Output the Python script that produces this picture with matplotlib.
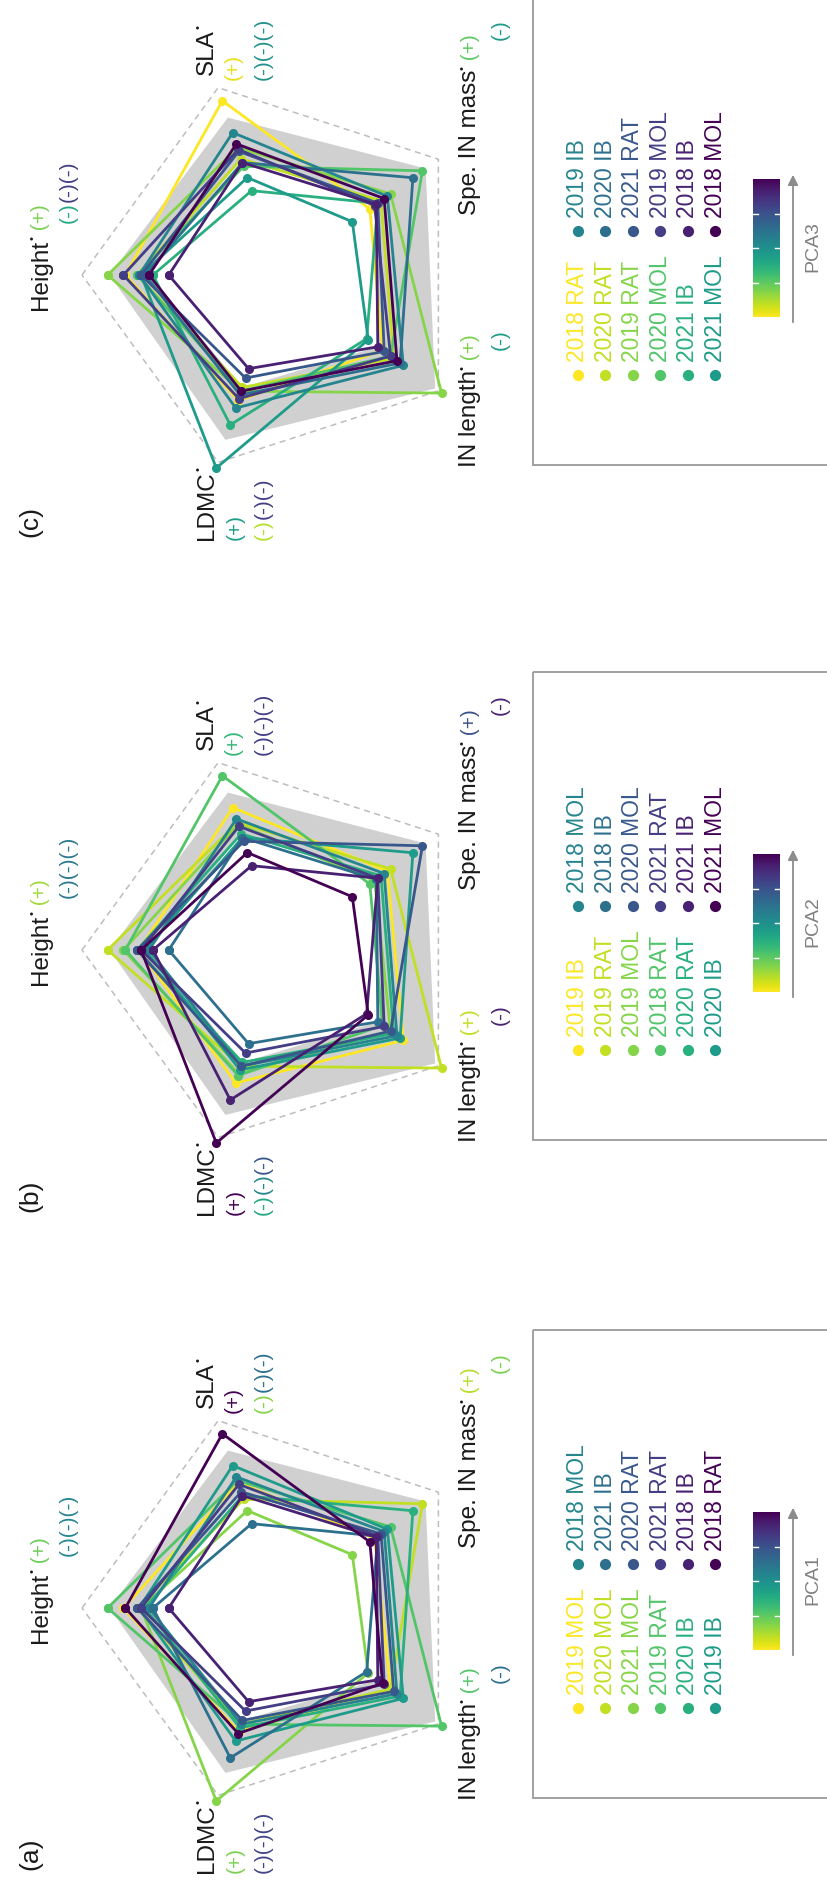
import numpy as np
import matplotlib.pyplot as plt
from matplotlib.patches import Rectangle

plt.rcParams['font.family'] = ['Liberation Sans', 'DejaVu Sans']

# ---- data -------------------------------------------------------------
traits = ["Height", "SLA", "Spe. IN mass", "IN length", "LDMC"]
site_years = ["2018 RAT", "2019 RAT", "2020 RAT", "2021 RAT",
              "2018 MOL", "2019 MOL", "2020 MOL", "2021 MOL",
              "2018 IB", "2019 IB", "2020 IB", "2021 IB"]

# scaled trait values (1 = outer dashed pentagon), same order as site_years
height = [0.78, 0.87, 0.72, 0.70, 0.66, 0.79, 0.72, 0.70, 0.56, 0.71, 0.68, 0.64]
sla = [0.93, 0.68, 0.62, 0.66, 0.70, 0.67, 0.58, 0.52, 0.60, 0.76, 0.60, 0.45]
spe_in_mass = [0.57, 0.70, 0.64, 0.62, 0.66, 0.60, 0.90, 0.46, 0.61, 0.68, 0.84, 0.62]
in_length = [0.65, 1.02, 0.72, 0.66, 0.74, 0.70, 0.70, 0.56, 0.62, 0.78, 0.76, 0.55]
ldmc = [0.67, 0.62, 0.60, 0.55, 0.62, 0.66, 0.62, 1.03, 0.50, 0.71, 0.64, 0.80]

# grey envelope (outer / inner edge per trait)
band_outer = [0.86, 0.84, 0.92, 0.98, 0.88]
band_inner = [0.66, 0.62, 0.62, 0.62, 0.60]

# legend order = colour rank along each PCA axis (low -> high)
pca1_order = ["2019 MOL", "2020 MOL", "2021 MOL", "2019 RAT", "2020 IB", "2019 IB",
              "2018 MOL", "2021 IB", "2020 RAT", "2021 RAT", "2018 IB", "2018 RAT"]
pca2_order = ["2019 IB", "2019 RAT", "2019 MOL", "2018 RAT", "2020 RAT", "2020 IB",
              "2018 MOL", "2018 IB", "2020 MOL", "2021 RAT", "2021 IB", "2021 MOL"]
pca3_order = ["2018 RAT", "2020 RAT", "2019 RAT", "2020 MOL", "2021 IB", "2021 MOL",
              "2019 IB", "2020 IB", "2021 RAT", "2019 MOL", "2018 IB", "2018 MOL"]

values = np.array([height, sla, spe_in_mass, in_length, ldmc]).T

# ---- layout (pixels) ----------------------------------------------------
W, H = 827, 1887
CX, R = 279, 197
BLACK = '#1a1a1a'
angles = np.deg2rad(180 - 72 * np.arange(5))

fig = plt.figure(figsize=(W / 100, H / 100), dpi=100)
bg = fig.add_axes([0, 0, 1, 1])
bg.axis('off')
bg.set_xlim(0, W)
bg.set_ylim(H, 0)
renderer = fig.canvas.get_renderer()


def put(x, y, parts):
    # draw coloured pieces one after another, reading bottom -> top
    for p in parts:
        txt, col = p[0], p[1]
        size = p[2] if len(p) > 2 else 15
        dx = p[3] if len(p) > 3 else 0
        t = bg.text(x + dx, y, txt, rotation=90, ha='center', va='bottom',
                    color=col, fontsize=size)
        y -= t.get_window_extent(renderer).height


DOT = ('\u2022', BLACK, 8, -8)


def radar(cy, order):
    S = 240
    ax = fig.add_axes([(CX - S) / W, 1 - (cy + S) / H, 2 * S / W, 2 * S / H])
    ax.set_xlim(-S / R, S / R)
    ax.set_ylim(-S / R, S / R)
    ax.axis('off')
    ca, sa = np.cos(angles), np.sin(angles)
    out = np.array(band_outer)
    inn = np.array(band_inner)
    ax.fill(out * ca, out * sa, color='#d0d0d0', lw=0)
    ax.fill(inn * ca, inn * sa, color='white', lw=0)
    ax.plot(np.append(ca, ca[0]), np.append(sa, sa[0]), color='#bdbdbd',
            ls=(0, (4, 3)), lw=1.1)
    cols = plt.cm.viridis(np.linspace(1, 0, len(order)))
    for name, c in zip(order, cols):
        r = values[site_years.index(name)]
        ax.plot(np.append(r * ca, r[0] * ca[0]), np.append(r * sa, r[0] * sa[0]),
                color=c, lw=2.0, marker='o', ms=5.5, clip_on=False)


def trait_labels(cy, sp):
    put(41, cy + 35, [("Height", BLACK, 17.5), DOT, (" (+)", sp['h+'])])
    put(68, cy - 52, sp['h-'])
    put(207, cy - 200, [("SLA", BLACK, 17.5), DOT])
    put(233, cy - 195, [("(+)", sp['s+'])])
    put(263, cy - 195, sp['s-'])
    put(470, cy - 60, [("Spe. IN mass", BLACK, 17.5), DOT, (" (+)", sp['m+'])])
    put(500, cy - 235, [("(-)", sp['m-'])])
    put(470, cy + 192, [("IN length", BLACK, 17.5), DOT, (" (+)", sp['i+'])])
    put(500, cy + 75, [("(-)", sp['i-'])])
    put(207, cy + 265, [("LDMC", BLACK, 17.5), DOT])
    put(235, cy + 265, [("(+)", sp['l+'])])
    put(263, cy + 265, sp['l-'])


def legend(cy, order, cbar_label):
    bg.add_patch(Rectangle((533, cy - 278), 330, 468, fill=False,
                           ec='#9a9a9a', lw=1.3))
    cols = plt.cm.viridis(np.linspace(1, 0, len(order)))
    for i, (name, c) in enumerate(zip(order, cols)):
        col, row = divmod(i, 6)
        x = 578 + 27.4 * row
        ym = cy + 100 if col == 0 else cy - 44
        bg.scatter(x, ym, s=65, color=c, lw=0)
        bg.text(x, ym - 13, name, rotation=90, ha='center', va='bottom',
                color=c, fontsize=16.5)
    grad = np.linspace(0, 1, 256)[:, None]
    bg.imshow(grad, cmap='viridis', extent=(753, 780, cy + 42, cy - 96),
              aspect='auto')
    for f in (0.25, 0.5, 0.75):
        yy = cy + 42 - f * 138
        bg.plot([753, 758], [yy, yy], color='white', lw=1)
        bg.plot([775, 780], [yy, yy], color='white', lw=1)
    bg.annotate('', xy=(793, cy - 103), xytext=(793, cy + 50),
                arrowprops=dict(arrowstyle='-|>', color='#8c8c8c', lw=1.3,
                                mutation_scale=15))
    bg.text(813, cy - 28, cbar_label, rotation=90, ha='center', va='center',
            color='#808080', fontsize=14)


panels = [
    (1608, pca1_order, '(a)', 'PCA1', {
        'h+': '#6ccd5a', 'h-': [("(-)(-)(-)", '#25858e')],
        's+': '#440154', 's-': [("(-)", '#86d549'), ("(-)(-)", '#2d708e')],
        'm+': '#b5de2b', 'm-': '#7ad151',
        'i+': '#52c569', 'i-': '#2d708e',
        'l+': '#7ad151', 'l-': [("(-)(-)(-)", '#414487')]}),
    (950, pca2_order, '(b)', 'PCA2', {
        'h+': '#a0da39', 'h-': [("(-)(-)(-)", '#2a788e')],
        's+': '#35b779', 's-': [("(-)(-)(-)", '#433e85')],
        'm+': '#3b528b', 'm-': '#482173',
        'i+': '#c2df23', 'i-': '#482173',
        'l+': '#440154', 'l-': [("(-)", '#22a884'), ("(-)", '#25858e'), ("(-)", '#38588c')]}),
    (275, pca3_order, '(c)', 'PCA3', {
        'h+': '#7ad151', 'h-': [("(-)", '#22a884'), ("(-)(-)", '#433e85')],
        's+': '#eadf1c', 's-': [("(-)(-)(-)", '#21918c')],
        'm+': '#5ec962', 'm-': '#1e9b8a',
        'i+': '#7ad151', 'i-': '#1e9b8a',
        'l+': '#1f9e89', 'l-': [("(-)", '#b5de2b'), ("(-)(-)", '#433e85')]}),
]

for cy, order, tag, cbar_label, sp in panels:
    radar(cy, order)
    trait_labels(cy, sp)
    legend(cy, order, cbar_label)
    bg.text(30, cy + 262, tag, rotation=90, ha='center', va='bottom',
            color=BLACK, fontsize=19)

bg.set_xlim(0, W)
bg.set_ylim(H, 0)
fig.savefig('out.png', dpi=100)
